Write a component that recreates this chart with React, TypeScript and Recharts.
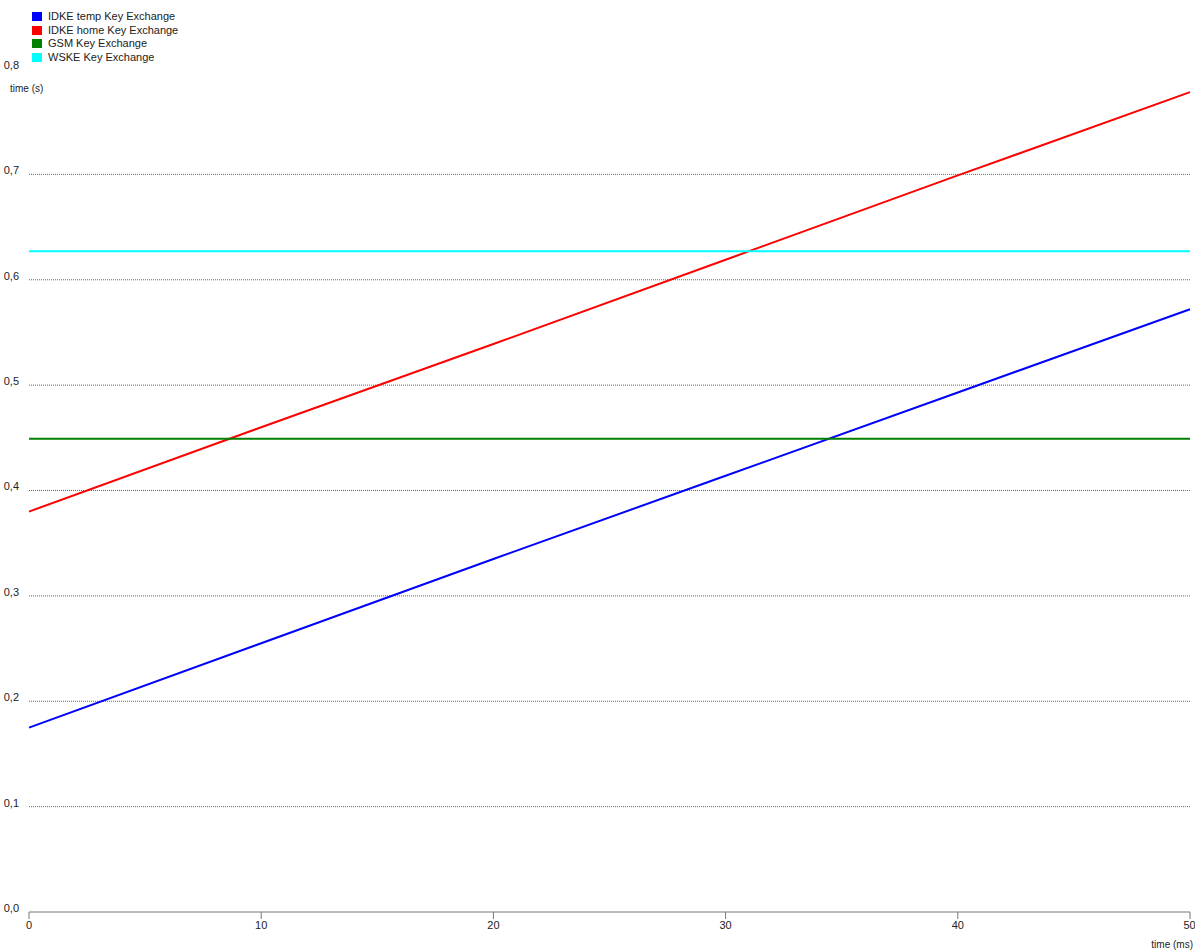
import { LineChart, Line, XAxis, YAxis, CartesianGrid } from "recharts";

const timeMs = [0, 10, 20, 30, 40, 50];
const idkeTemp = [0.175, 0.255, 0.335, 0.414, 0.493, 0.572];
const idkeHome = [0.38, 0.46, 0.539, 0.619, 0.699, 0.778];
const gsm = [0.449, 0.449, 0.449, 0.449, 0.449, 0.449];
const wske = [0.627, 0.627, 0.627, 0.627, 0.627, 0.627];

const xTicks = [0, 10, 20, 30, 40, 50];
const yTicks = [0, 0.1, 0.2, 0.3, 0.4, 0.5, 0.6, 0.7, 0.8];
const gridValues = [0.1, 0.2, 0.3, 0.4, 0.5, 0.6, 0.7];

const series = [
    { key: "idkeTemp", name: "IDKE temp Key Exchange", color: "#0000ff" },
    { key: "idkeHome", name: "IDKE home Key Exchange", color: "#ff0000" },
    { key: "gsm", name: "GSM Key Exchange", color: "#008000" },
    { key: "wske", name: "WSKE Key Exchange", color: "#00ffff" },
];

const data = timeMs.map((t, i) => ({
    t,
    idkeTemp: idkeTemp[i],
    idkeHome: idkeHome[i],
    gsm: gsm[i],
    wske: wske[i],
}));

const font = "'Liberation Sans', Arial, sans-serif";

function LegendBox(): JSX.Element {
    return (
        <div style={{ position: "absolute", left: 32, top: 10, fontFamily: font, fontSize: 11, color: "#222", lineHeight: "13.5px" }}>
            {series.map((s) => (
                <div key={s.key} style={{ display: "flex", alignItems: "center" }}>
                    <span style={{ display: "inline-block", width: 10, height: 9, background: s.color, marginRight: 6 }}></span>
                    {s.name}
                </div>
            ))}
        </div>
    );
}

function App(): JSX.Element {
    return (
        <div style={{ position: "absolute", left: 0, top: 0, width: 1195, height: 951, background: "#fff" }}>
            <LineChart
                width={1195}
                height={951}
                data={data}
                margin={{ top: 69, right: 5, bottom: 0, left: 0 }}>

                <CartesianGrid
                    vertical={false}
                    horizontalValues={gridValues}
                    stroke="#666"
                    strokeDasharray="1 1"></CartesianGrid>
                <XAxis
                    dataKey="t"
                    type="number"
                    domain={[0, 50]}
                    ticks={xTicks}
                    height={39}
                    axisLine={{ stroke: "#777" }}
                    tickLine={{ stroke: "#777" }}
                    tickSize={7}
                    tick={{ fontSize: 11, fill: "#222", fontFamily: font }}
                    label={{
                        content: () => (
                            <text x={1193} y={948} fontSize={10} fill="#222" fontFamily={font} textAnchor="end">time (ms)</text>
                        ),
                    }}></XAxis>
                <YAxis
                    type="number"
                    domain={[0, 0.8]}
                    ticks={yTicks}
                    width={29}
                    axisLine={false}
                    tickLine={false}
                    tickFormatter={(v: number) => v.toFixed(1).replace(".", ",")}
                    tick={{ fontSize: 11, fill: "#222", fontFamily: font, dx: -2, dy: -4 }}
                    label={{
                        content: () => (
                            <text x={10} y={92} fontSize={10} fill="#222" fontFamily={font}>time (s)</text>
                        ),
                    }}></YAxis>
                {series.map((s) => (
                    <Line
                        key={s.key}
                        dataKey={s.key}
                        name={s.name}
                        stroke={s.color}
                        strokeWidth={2}
                        dot={false}
                        activeDot={false}
                        type="linear"
                        isAnimationActive={false}></Line>
                ))}

            </LineChart>
            <LegendBox />
        </div>
    );
}

export default App;
